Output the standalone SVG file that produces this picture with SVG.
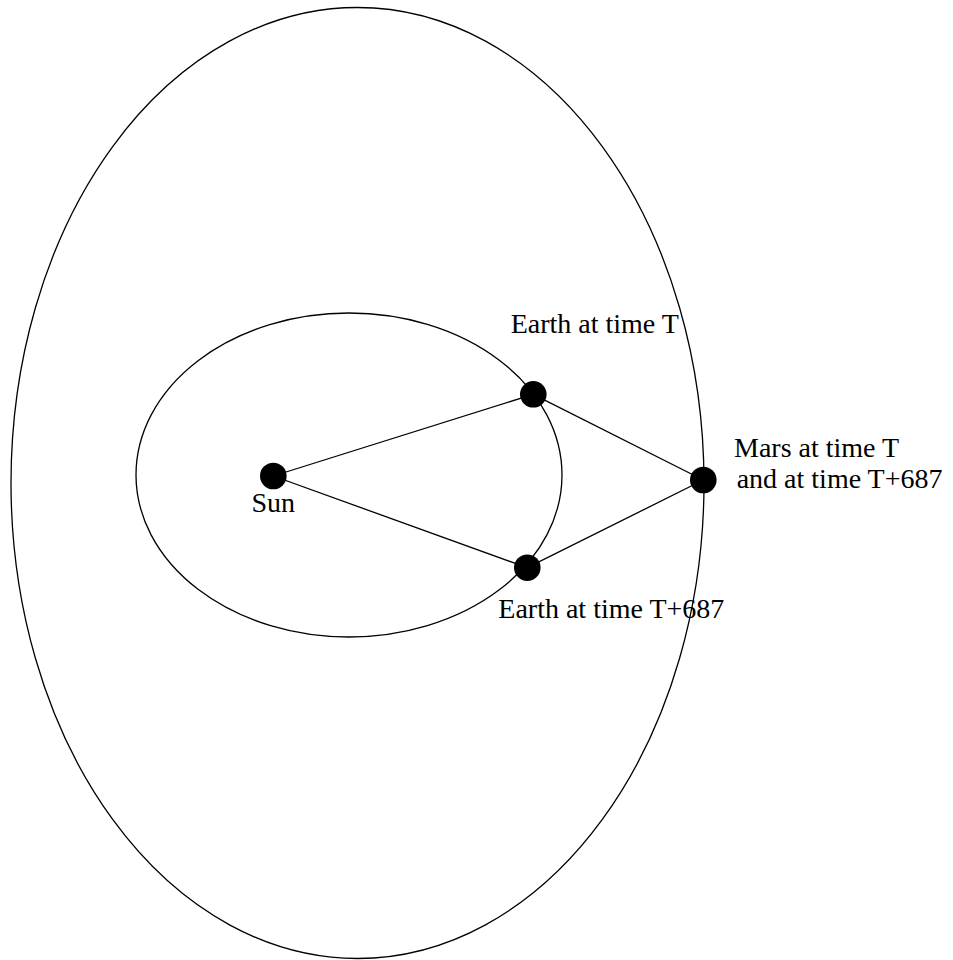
<svg xmlns="http://www.w3.org/2000/svg" width="953" height="960" viewBox="0 0 953 960">
<style>
.orbit{fill:none;stroke:#000;stroke-width:1.3}
.link{stroke:#000;stroke-width:1.3;fill:none}
.dot{fill:#000}
.lbl{font-family:"Liberation Serif","Times New Roman",serif;font-size:28px;fill:#000}
</style>
<rect width="953" height="960" fill="#fff"/>
<g id="orbits">
<ellipse id="mars-orbit" class="orbit" cx="357.5" cy="483" rx="346.5" ry="475.5"/>
<ellipse id="earth-orbit" class="orbit" cx="349" cy="475" rx="213" ry="162"/>
</g>
<g id="connectors">
<line class="link" x1="273.3" y1="476" x2="533.3" y2="394.3"/>
<line class="link" x1="273.3" y1="476" x2="527.3" y2="567.7"/>
<line class="link" x1="533.3" y1="394.3" x2="703.3" y2="480"/>
<line class="link" x1="527.3" y1="567.7" x2="703.3" y2="480"/>
</g>
<g id="sun">
<circle class="dot" cx="273.3" cy="476" r="13.3"/>
<text class="lbl" x="251.5" y="512">Sun</text>
</g>
<g id="earth-t">
<circle class="dot" cx="533.3" cy="394.3" r="13.3"/>
<text class="lbl" x="510.7" y="333">Earth at time T</text>
</g>
<g id="earth-t687">
<circle class="dot" cx="527.3" cy="567.7" r="13.3"/>
<text class="lbl" x="498.3" y="618.3">Earth at time T+687</text>
</g>
<g id="mars">
<circle class="dot" cx="703.3" cy="480" r="13.3"/>
<text class="lbl" x="734" y="456.7">Mars at time T</text>
<text class="lbl" x="736.7" y="488.3">and at time T+687</text>
</g>
</svg>
